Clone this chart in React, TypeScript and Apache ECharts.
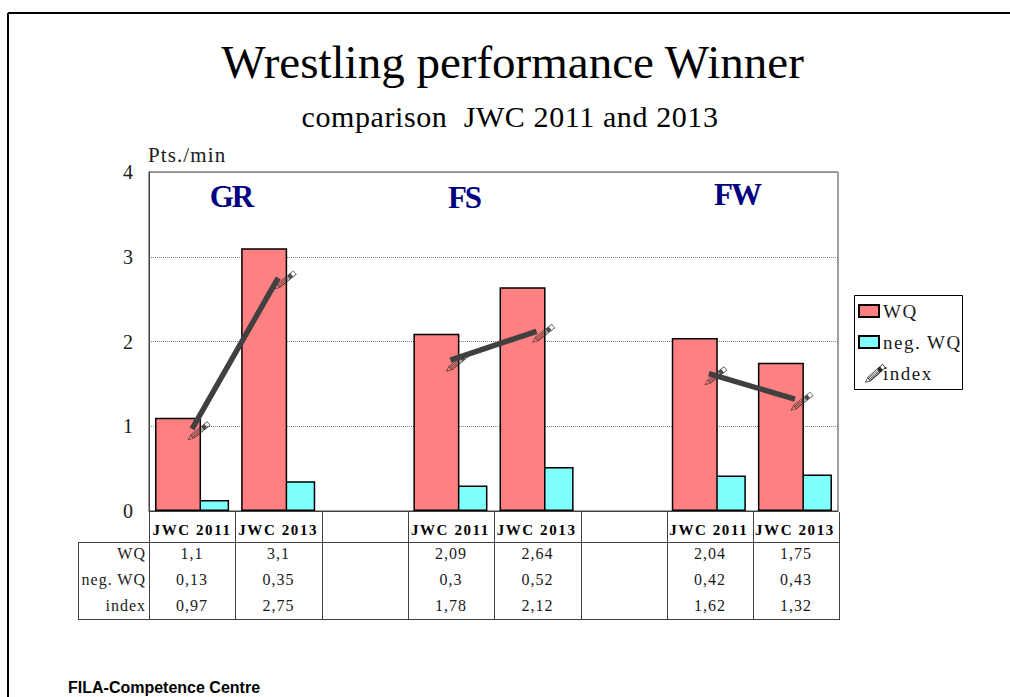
import React, { useEffect, useRef } from "react";
import * as echarts from "echarts";

const categories = ["JWC 2011", "JWC 2013", "", "JWC 2011", "JWC 2013", "", "JWC 2011", "JWC 2013"];
const wq = [1.1, 3.1, null, 2.09, 2.64, null, 2.04, 1.75];
const negWq = [0.13, 0.35, null, 0.3, 0.52, null, 0.42, 0.43];
const indexValues = [0.97, 2.75, null, 1.78, 2.12, null, 1.62, 1.32];
const yTicks = [0, 1, 2, 3, 4];
const rowNames = ["WQ", "neg. WQ", "index"];
const rowTexts = [
  ["1,1", "3,1", "", "2,09", "2,64", "", "2,04", "1,75"],
  ["0,13", "0,35", "", "0,3", "0,52", "", "0,42", "0,43"],
  ["0,97", "2,75", "", "1,78", "2,12", "", "1,62", "1,32"],
];
const groupLabels = [
  { text: "GR", x: 231, y: 196 },
  { text: "FS", x: 464, y: 197 },
  { text: "FW", x: 737, y: 194 },
];

const SERIF = "'Liberation Serif', serif";
const INK = "#1a1a1a";

function pt(t: number, s: number) {
  const x = t * 0.78 + s * 0.62 + 2;
  const y = 18 - t * 0.62 + s * 0.78;
  return `${x.toFixed(2)} ${y.toFixed(2)}`;
}
function strip(t0: number, t1: number, s0: number, s1: number, rev = false) {
  const p = [pt(t0, s0), pt(t1, s0), pt(t1, s1), pt(t0, s1)];
  if (rev) p.reverse();
  return `M${p[0]}L${p[1]}L${p[2]}L${p[3]}Z`;
}
const pencilD =
  `M${pt(0, 0)}L${pt(6, -2.6)}L${pt(6, 2.6)}Z` +
  `M${pt(1.8, 0)}L${pt(5.3, 1.7)}L${pt(5.3, -1.7)}Z` +
  strip(6, 19, -2.6, -2) +
  strip(6, 19, -1.2, -0.6) +
  strip(6, 19, 0.2, 0.8) +
  strip(6, 19, 1.6, 2.6) +
  strip(19, 22.5, -2.6, 2.6) +
  strip(22.5, 27, -2.6, 2.6) +
  strip(23, 26.4, -1.9, 1.9, true);
const pencilPath = "path://" + pencilD;
echarts.graphic.registerShape("pencil", echarts.graphic.extendPath(pencilD, {}) as any);

const COLS = [149, 235, 322, 408, 494, 581, 667, 753, 839];
const ROW_Y = [553, 579, 605];

function tableGraphics() {
  const line = (x1: number, y1: number, x2: number, y2: number) => ({
    type: "line",
    shape: { x1, y1, x2, y2 },
    style: { stroke: "#404040", lineWidth: 1 },
  });
  const els: any[] = [
    line(78, 542.5, 839, 542.5),
    line(78, 619.5, 839, 619.5),
    line(78.5, 542, 78.5, 620),
  ];
  COLS.forEach((x) => els.push(line(x + 0.5, 512, x + 0.5, 620)));
  rowNames.forEach((name, r) => {
    els.push({
      type: "text",
      x: 146,
      y: ROW_Y[r],
      style: { text: name, font: `16px ${SERIF}`, fill: INK, textAlign: "right", textVerticalAlign: "middle" },
    });
    rowTexts[r].forEach((t, c) => {
      if (!t) return;
      els.push({
        type: "text",
        x: (COLS[c] + COLS[c + 1]) / 2,
        y: ROW_Y[r],
        style: { text: t, font: `16px ${SERIF}`, fill: INK, textAlign: "center", textVerticalAlign: "middle" },
      });
    });
  });
  return els;
}

// Letter spacing of the reference's texts, by font size in px (SVG texts take it from CSS).
const SPACING: Record<string, number> = { "30px": 0.6, "31px": -2, "19px": 1.5, "21px": 1.1, "16px": 1, "15px": 1.6 };

export default function App() {
  const ref = useRef<HTMLDivElement>(null);
  useEffect(() => {
    const chart = echarts.init(ref.current!, undefined, { renderer: "svg" });
    const graphic: any[] = [
      { type: "line", shape: { x1: 8, y1: 13, x2: 1010, y2: 13 }, style: { stroke: "#000", lineWidth: 2 } },
      { type: "line", shape: { x1: 8, y1: 13, x2: 8, y2: 697 }, style: { stroke: "#000", lineWidth: 2 } },
      {
        type: "text", x: 512.5, y: 62,
        style: { text: "Wrestling performance Winner", font: `47px ${SERIF}`, fill: "#000", textAlign: "center", textVerticalAlign: "middle" },
      },
      {
        type: "text", x: 510, y: 116,
        style: { text: "comparison  JWC 2011 and 2013", font: `30px ${SERIF}`, fill: "#000", textAlign: "center", textVerticalAlign: "middle" },
      },
      {
        type: "text", x: 148, y: 155,
        style: { text: "Pts./min", font: `21px ${SERIF}`, fill: INK, textAlign: "left", textVerticalAlign: "middle" },
      },
      {
        type: "text", x: 68, y: 687,
        style: { text: "FILA-Competence Centre", font: `bold 16px 'Liberation Sans', sans-serif`, fill: "#000", textAlign: "left", textVerticalAlign: "middle" },
      },
      { type: "rect", shape: { x: 854.5, y: 295.5, width: 108, height: 94 }, style: { fill: "#fff", stroke: "#000", lineWidth: 1 }, z: -1 },
      { type: "pencil", x: 863, y: 364.5, scaleX: 0.92, scaleY: 1.02, style: { fill: "#222" }, z: 20 },
      ...groupLabels.map((g) => ({
        type: "text", x: g.x, y: g.y, z: 10,
        style: { text: g.text, font: `bold 31px ${SERIF}`, fill: "#000080", textAlign: "center", textVerticalAlign: "middle" },
      })),
      ...tableGraphics(),
    ];
    chart.setOption({
      animation: false,
      backgroundColor: "#fff",
      grid: { left: 149, right: 172, top: 172, bottom: 186, show: true, borderColor: "#404040", borderWidth: 1, backgroundColor: "#fff" },
      xAxis: {
        type: "category",
        data: categories,
        axisLine: { lineStyle: { color: "#404040" } },
        axisTick: { show: false },
        axisLabel: { interval: 0, margin: 11, fontFamily: SERIF, fontWeight: "bold", fontSize: 15, color: "#000" },
      },
      yAxis: {
        type: "value",
        min: yTicks[0],
        max: yTicks[yTicks.length - 1],
        interval: 1,
        axisLine: { show: true, lineStyle: { color: "#404040" } },
        axisTick: { show: false },
        axisLabel: { margin: 16, fontFamily: SERIF, fontSize: 20, color: INK },
        splitLine: { lineStyle: { color: "#808080", type: "dotted" } },
      },
      legend: {
        left: 858,
        top: 301.5,
        orient: "vertical",
        itemWidth: 20,
        itemHeight: 12,
        itemGap: 12,
        padding: 0,
        textStyle: { fontFamily: SERIF, fontSize: 19, color: INK, padding: [0, 0, 0, -1] },
        data: [
          { name: "WQ", icon: "rect" },
          { name: "neg. WQ", icon: "rect" },
          { name: "index", icon: "rect", itemStyle: { opacity: 0 } },
        ],
      },
      graphic,
      series: [
        {
          name: "WQ", type: "bar", data: wq, barWidth: 46, barGap: "-39%", z: 3,
          itemStyle: { color: "#FF8080", borderColor: "#000", borderWidth: 1.5 },
        },
        {
          name: "neg. WQ", type: "bar", data: negWq, barWidth: 46, barGap: "-39%", z: 2,
          itemStyle: { color: "#80FFFF", borderColor: "#000", borderWidth: 1.5 },
        },
        {
          name: "index", type: "scatter", data: indexValues, z: 4,
          symbol: pencilPath, symbolSize: [23, 19], symbolOffset: [7, 2],
          itemStyle: { color: "#222" },
        },
        {
          name: "index line", type: "line", data: indexValues, z: 5, showSymbol: false, connectNulls: false,
          lineStyle: { color: "#404040", width: 5.5 },
        },
      ],
    });
    ref.current!.querySelectorAll("text").forEach((el) => {
      const s = getComputedStyle(el);
      if (s.fontFamily.includes("Sans")) return;
      const sp = SPACING[s.fontSize];
      if (sp) (el as SVGTextElement).style.letterSpacing = `${sp}px`;
    });
    return () => chart.dispose();
  }, []);
  return <div ref={ref} style={{ position: "absolute", left: 0, top: 0, width: 1010, height: 697 }} />;
}
